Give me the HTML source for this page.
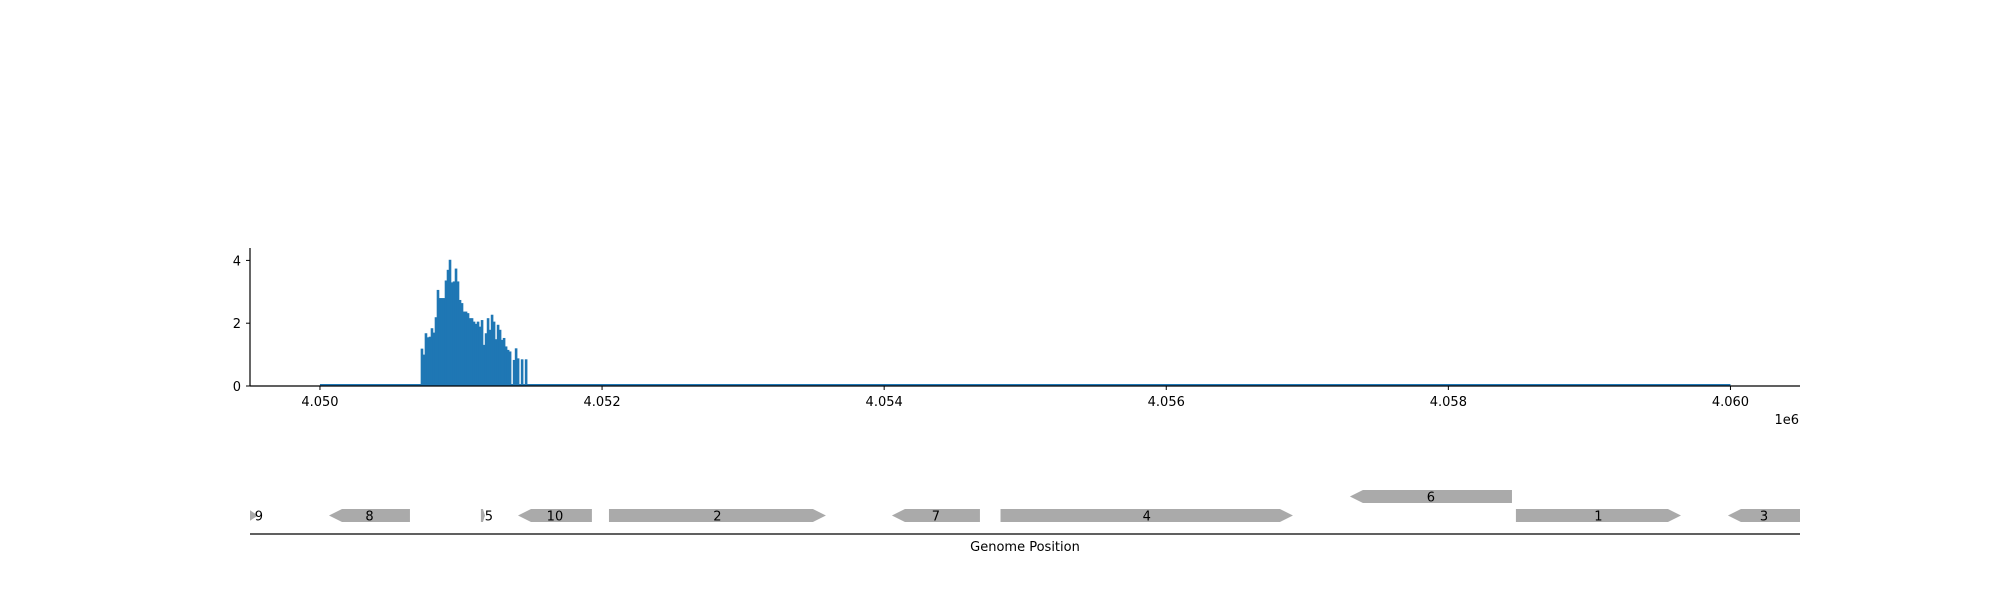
<!DOCTYPE html>
<html><head><meta charset="utf-8"><style>
body{margin:0;background:#fff}
svg text{font-family:"DejaVu Sans","Liberation Sans",sans-serif;font-size:13px;fill:#000}
</style></head><body>
<svg id="chart" width="2000" height="600" xmlns="http://www.w3.org/2000/svg"></svg>
<script>
const binStart = 4050714;
const binWidth = 14.2;
const coverage = [1.19,1.0,1.68,1.55,1.57,1.84,1.7,2.19,3.06,2.8,2.8,2.8,3.36,3.7,4.02,3.3,3.33,3.74,3.33,2.74,2.64,2.37,2.37,2.32,2.16,2.16,2.05,1.98,2.05,1.89,2.1,1.31,1.68,2.16,1.79,2.27,2.05,1.49,1.95,1.79,1.47,1.53,1.26,1.15,1.1,0,0.83,1.2,0.88,0,0.85,0,0.85];
const baselineRange = [4050000, 4060000];
const xTicks = [4050000,4052000,4054000,4056000,4058000,4060000];
const xTickLabels = ["4.050","4.052","4.054","4.056","4.058","4.060"];
const yTicks = [0,2,4];
const geneNames = ["9","8","5","10","2","7","4","6","1","3"];
const geneStarts = [4049420,4050064,4051141,4051404,4052049,4054055,4054825,4057302,4058479,4059982];
const geneEnds   = [4049560,4050638,4051170,4051928,4053587,4054679,4056898,4058451,4059649,4060600];
const geneStrand = [1,-1,1,-1,1,-1,1,-1,1,-1];
const geneRow    = [0,0,0,0,0,0,0,1,0,0];

const X0=250,X1=1800,D0=4049504,D1=4060493;
const sx=v=>X0+(v-D0)/(D1-D0)*(X1-X0);
const Y0=386,PPU=31.4;
const sy=v=>Y0-v*PPU;
const NS="http://www.w3.org/2000/svg";
const svg=document.getElementById('chart');
function mk(t,a,p){const e=document.createElementNS(NS,t);for(const k in a)e.setAttribute(k,a[k]);(p||svg).appendChild(e);return e;}

const bars=mk('g',{});


coverage.forEach((v,i)=>{
  if(v<=0) return;
  const a=sx(binStart+i*binWidth),b=sx(binStart+(i+1)*binWidth);
  const r=mk('rect',{x:a,y:sy(v),width:b-a+0.6,height:Y0-sy(v),fill:'#1f77b4'},bars);
  
  
});
const bl=mk('line',{x1:sx(baselineRange[0]),x2:sx(baselineRange[1]),y1:Y0-1,y2:Y0-1,stroke:'#1f77b4','stroke-width':2});



const ya=mk('line',{x1:X0,x2:X0,y1:248,y2:Y0,stroke:'#000','stroke-width':1.2});


const xa=mk('line',{x1:X0,x2:X1,y1:Y0,y2:Y0,stroke:'#000','stroke-width':1.2});


yTicks.forEach(v=>{
  mk('line',{x1:X0-4,x2:X0,y1:sy(v),y2:sy(v),stroke:'#000'});
  const t=mk('text',{x:X0-9,y:sy(v)+5,'text-anchor':'end'});t.textContent=v;
  
  
});
xTicks.forEach((v,i)=>{
  mk('line',{x1:sx(v),x2:sx(v),y1:Y0,y2:Y0+4,stroke:'#000'});
  const t=mk('text',{x:sx(v),y:406,'text-anchor':'middle'});t.textContent=xTickLabels[i];
  
  
});
const off=mk('text',{x:1799,y:424,'text-anchor':'end'});off.textContent='1e6';



const defs=mk('defs',{});const cp=mk('clipPath',{id:'clip'},defs);mk('rect',{x:X0,y:450,width:X1-X0,height:100},cp);
const genes=mk('g',{'clip-path':'url(#clip)'});


geneNames.forEach((n,i)=>{
  const a=sx(geneStarts[i]),b=sx(geneEnds[i]);
  const cy=geneRow[i]?496.5:515.5,h=6.5,hl=Math.min(13,(b-a)*0.5);
  let pts;
  if(geneStrand[i]>0) pts=[[a,cy-h],[b-hl,cy-h],[b,cy],[b-hl,cy+h],[a,cy+h]];
  else pts=[[a,cy],[a+hl,cy-h],[b,cy-h],[b,cy+h],[a+hl,cy+h]];
  const p=mk('polygon',{points:pts.map(q=>q.join(',')).join(' '),fill:'#aaaaaa'},genes);
  
  
  const cx=(Math.max(a,X0)+Math.min(b,X1))/2+(n==='9'?5:0)+(n==='5'?6:0);
  const t=mk('text',{x:cx,y:cy+5,'text-anchor':'middle'});t.textContent=n;
  
  
});
const gl=mk('line',{x1:X0,x2:X1,y1:534,y2:534,stroke:'#000','stroke-width':1.3});


const gt=mk('text',{x:1025,y:551,'text-anchor':'middle'});gt.textContent='Genome Position';


</script>
</body></html>
